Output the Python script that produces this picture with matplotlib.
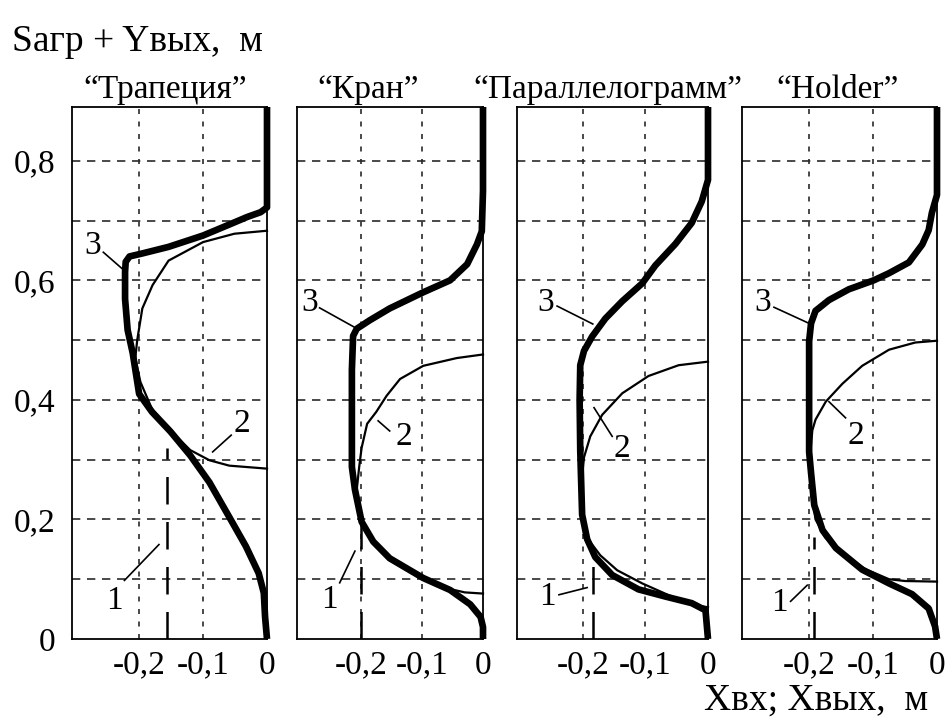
import numpy as np
import matplotlib.pyplot as plt

plt.rcParams['font.family'] = ['Liberation Serif', 'DejaVu Serif']

titles = ['\u201cТрапеция\u201d', '\u201cКран\u201d', '\u201cПараллелограмм\u201d', '\u201cHolder\u201d']

# curve 3 (thick): Sагр + Yвых vs Xвх
x3 = [
    [0, -0.003, -0.005, -0.013, -0.033, -0.059, -0.09, -0.12, -0.151, -0.18, -0.2, -0.21, -0.218,
     -0.222, -0.222, -0.221, -0.215, -0.195, -0.154, -0.1, -0.062, -0.031, -0.01, 0, 0],
    [0, 0, -0.004, -0.021, -0.054, -0.098, -0.153, -0.18, -0.199, -0.21, -0.215, -0.215, -0.213,
     -0.207, -0.186, -0.153, -0.098, -0.054, -0.026, -0.01, -0.002, 0, 0],
    [0, -0.004, -0.026, -0.068, -0.111, -0.153, -0.18, -0.193, -0.201, -0.204, -0.205, -0.204, -0.198,
     -0.185, -0.164, -0.137, -0.105, -0.084, -0.052, -0.026, -0.01, 0, 0],
    [0, -0.003, -0.013, -0.039, -0.075, -0.117, -0.158, -0.179, -0.192, -0.197, -0.2, -0.2, -0.197,
     -0.19, -0.169, -0.138, -0.099, -0.075, -0.044, -0.023, -0.013, -0.008, 0, 0],
]
y3 = [
    [0, 0.037, 0.077, 0.11, 0.155, 0.204, 0.262, 0.307, 0.347, 0.38, 0.41, 0.478, 0.517,
     0.569, 0.614, 0.631, 0.64, 0.645, 0.656, 0.675, 0.692, 0.706, 0.714, 0.722, 0.89],
    [0, 0.02, 0.037, 0.058, 0.082, 0.102, 0.135, 0.163, 0.196, 0.25, 0.288, 0.45, 0.507,
     0.519, 0.533, 0.553, 0.58, 0.6, 0.627, 0.66, 0.682, 0.75, 0.89],
    [0, 0.048, 0.06, 0.071, 0.083, 0.107, 0.137, 0.167, 0.208, 0.315, 0.4, 0.458, 0.482,
     0.506, 0.536, 0.565, 0.595, 0.625, 0.661, 0.696, 0.732, 0.768, 0.89],
    [0, 0.021, 0.051, 0.075, 0.093, 0.116, 0.152, 0.182, 0.224, 0.278, 0.313, 0.498, 0.528,
     0.549, 0.567, 0.585, 0.6, 0.612, 0.63, 0.66, 0.684, 0.713, 0.743, 0.89],
]

# curve 2 (thin): Xвых path
x2 = [
    [0, -0.051, -0.1, -0.154, -0.179, -0.195, -0.203, -0.206, -0.198, -0.18, -0.152, -0.12, -0.09, -0.059, 0],
    [0, -0.043, -0.098, -0.136, -0.158, -0.175, -0.19, -0.199, -0.203, -0.207, -0.2, -0.178, -0.15,
     -0.1, -0.06, -0.03, 0],
    [0, -0.047, -0.095, -0.137, -0.169, -0.188, -0.198, -0.203, -0.2, -0.19, -0.172, -0.145, -0.105,
     -0.06, -0.02, 0],
    [0, -0.034, -0.075, -0.117, -0.148, -0.174, -0.19, -0.195, -0.199, -0.197, -0.19, -0.175, -0.15,
     -0.112, -0.075, -0.05, 0],
]
y2 = [
    [0.683, 0.678, 0.664, 0.633, 0.592, 0.553, 0.5, 0.47, 0.43, 0.385, 0.35, 0.316, 0.299, 0.29, 0.285],
    [0.476, 0.47, 0.457, 0.435, 0.407, 0.38, 0.36, 0.32, 0.288, 0.25, 0.2, 0.16, 0.132, 0.1, 0.085, 0.078, 0.076],
    [0.464, 0.458, 0.44, 0.411, 0.375, 0.339, 0.304, 0.25, 0.2, 0.165, 0.14, 0.115, 0.093, 0.072, 0.057, 0.053],
    [0.499, 0.496, 0.484, 0.457, 0.427, 0.397, 0.367, 0.349, 0.3, 0.25, 0.2, 0.17, 0.145, 0.117, 0.1, 0.097, 0.096],
]

# line 1 (dashed): Xвх constant
x1 = [-0.156, -0.2, -0.184, -0.193]
y1_top = [0.32, 0.19, 0.14, 0.17]

# curve labels: text position, leader start, leader end
lab1 = [((-0.238, 0.064), (-0.223, 0.098), (-0.169, 0.158)),
        ((-0.252, 0.066), (-0.235, 0.094), (-0.21, 0.147)),
        ((-0.256, 0.071), (-0.238, 0.074), (-0.193, 0.086)),
        ((-0.246, 0.06), (-0.229, 0.063), (-0.203, 0.09))]
lab2 = [((-0.04, 0.36), (-0.056, 0.341), (-0.085, 0.313)),
        ((-0.13, 0.338), (-0.153, 0.348), (-0.172, 0.365)),
        ((-0.138, 0.318), (-0.153, 0.339), (-0.182, 0.387)),
        ((-0.127, 0.34), (-0.143, 0.37), (-0.169, 0.397))]
lab3 = [((-0.272, 0.658), (-0.256, 0.647), (-0.226, 0.619)),
        ((-0.285, 0.562), (-0.268, 0.554), (-0.208, 0.52)),
        ((-0.259, 0.562), (-0.241, 0.557), (-0.184, 0.527)),
        ((-0.272, 0.562), (-0.255, 0.555), (-0.2, 0.528))]

title_x = [165, 368, 608, 838]
lefts = [72, 297, 517, 742]
rights = [267, 483, 708, 937]

W, H = 946, 724
fig = plt.figure(figsize=(W / 100, H / 100), dpi=100)

for i in range(4):
    ax = fig.add_axes([lefts[i] / W, 1 - 639 / H, (rights[i] - lefts[i]) / W, 532 / H])
    ax.set_xlim(-0.305, 0.0)
    ax.set_ylim(0, 0.89)
    for yy in np.arange(0.1, 0.85, 0.1):
        ax.axhline(yy, color='#2a2a2a', lw=1.2, ls=(0, (5, 4)), zorder=1)
    for xx in [-0.2, -0.1]:
        ax.axvline(xx, color='#2a2a2a', lw=1.2, ls=(0, (3, 4.5)), zorder=1)

    ax.plot([x1[i], x1[i]], [0, y1_top[i]], color='k', lw=1.8, ls=(0, (11, 7)), zorder=2)
    ax.plot(x2[i], y2[i], color='k', lw=1.6, zorder=3, clip_on=False, solid_joinstyle='round')
    ax.plot(x3[i], y3[i], color='k', lw=4.8, zorder=4, clip_on=False,
            solid_joinstyle='round', solid_capstyle='butt')

    for lab, txt in [(lab1[i], '1'), (lab2[i], '2'), (lab3[i], '3')]:
        (tx, ty), (sx, sy), (ex, ey) = lab
        ax.text(tx, ty, txt, fontsize=24, ha='center', va='center', zorder=6)
        ax.plot([sx, ex], [sy, ey], color='k', lw=1.2, zorder=6)

    ax.set_xticks([-0.2, -0.1, 0])
    ax.set_xticklabels(['-0,2', '-0,1', '0'], fontsize=24)
    ax.tick_params(length=0, pad=8)
    if i == 0:
        ax.set_yticks([0, 0.2, 0.4, 0.6, 0.8])
        ax.set_yticklabels(['0', '0,2', '0,4', '0,6', '0,8'], fontsize=24)
        ax.tick_params(axis='y', pad=12)
    else:
        ax.set_yticks([])
    for s in ax.spines.values():
        s.set_linewidth(1.3)
        s.set_zorder(5)

    fig.text(title_x[i] / W, 1 - 90 / H, titles[i], fontsize=24, ha='center', va='center')

fig.text(12 / W, 1 - 42 / H, 'Sагр + Yвых,  м', fontsize=27, ha='left', va='center')
fig.text(928 / W, 1 - 700 / H, 'Xвх; Xвых,  м', fontsize=27, ha='right', va='center')

fig.savefig('out.png', dpi=100)
